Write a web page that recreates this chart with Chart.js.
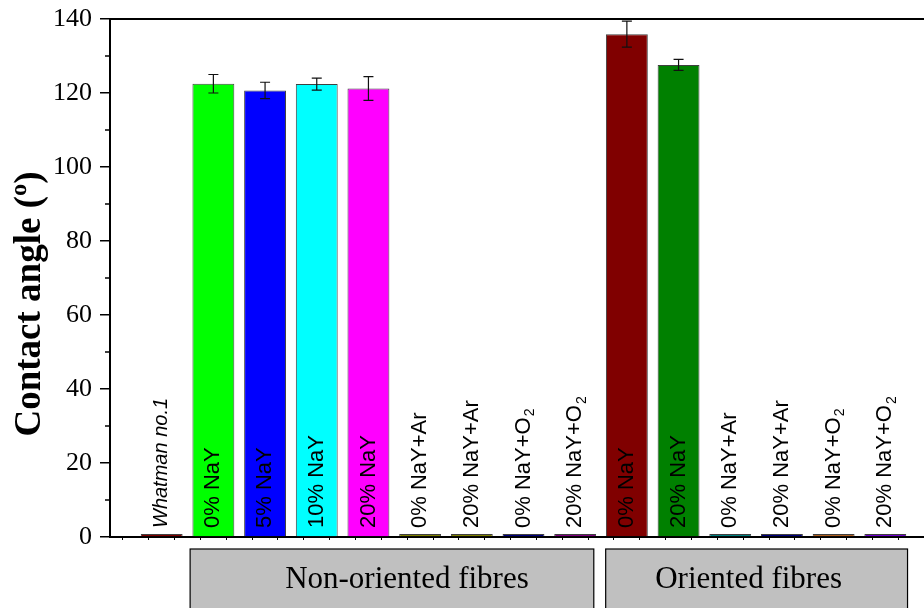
<!DOCTYPE html>
<html>
<head>
<meta charset="utf-8">
<script src="https://cdn.jsdelivr.net/npm/chart.js@4/dist/chart.umd.min.js"></script>
<style>
  html, body { margin: 0; padding: 0; background: #fff; overflow: hidden; }
  #wrap { width: 924px; height: 608px; overflow: hidden; position: relative; }
  #wrap canvas { position: absolute; left: 0; top: 0; }
</style>
</head>
<body>
<div id="wrap"><canvas id="chart" width="940" height="608"></canvas></div>
<script>
// Sample names ("_2" marks a subscript 2)
const categories = [
  'Whatman no.1',
  '0% NaY', '5% NaY', '10% NaY', '20% NaY',
  '0% NaY+Ar', '20% NaY+Ar', '0% NaY+O_2', '20% NaY+O_2',
  '0% NaY', '20% NaY',
  '0% NaY+Ar', '20% NaY+Ar', '0% NaY+O_2', '20% NaY+O_2'
];

// Water contact angle (degrees) and its standard deviation
const contactAngle = [0.8, 122.5, 120.7, 122.4, 121.2, 0.8, 0.8, 0.8, 0.8, 135.9, 127.6, 0.8, 0.8, 0.8, 0.8];
const angleError   = [0, 2.5, 2.2, 1.6, 3.2, 0, 0, 0, 0, 3.5, 1.5, 0, 0, 0, 0];

const barColours = [
  '#800000',
  '#00ff00', '#0000ff', '#00ffff', '#ff00ff',
  '#808000', '#808000', '#000080', '#800080',
  '#800000', '#008000',
  '#008080', '#000080', '#b06020', '#7000d0'
];

// Sample groups (first and last category index)
const groupNames = ['Non-oriented fibres', 'Oriented fibres'];
const groupFirst = [1, 9];
const groupLast  = [8, 14];

// y axis range and tick steps
const yMin = 0, yMax = 140, yMajor = 20, yMinor = 10;

const serif = "'Liberation Serif', 'Times New Roman', serif";
const sans = "'Liberation Sans', Arial, sans-serif";

const decorations = {
  id: 'decorations',
  afterDatasetsDraw(chart) {
    const ctx = chart.ctx;
    const xs = chart.scales.x, ys = chart.scales.y;
    const area = chart.chartArea;
    const opt = chart.options.plugins.decorations;
    ctx.save();

    // error bars
    ctx.strokeStyle = '#111';
    ctx.lineWidth = 1.2;
    contactAngle.forEach((v, i) => {
      const e = angleError[i];
      if (!e) return;
      const x = xs.getPixelForValue(i);
      const yt = ys.getPixelForValue(v + e);
      const yb = ys.getPixelForValue(v - e);
      ctx.beginPath();
      ctx.moveTo(x, yt); ctx.lineTo(x, yb);
      ctx.moveTo(x - 5, yt); ctx.lineTo(x + 5, yt);
      ctx.moveTo(x - 5, yb); ctx.lineTo(x + 5, yb);
      ctx.stroke();
    });

    // vertical sample names inside / above the bars
    const y0 = ys.getPixelForValue(0) - 9;
    ctx.fillStyle = '#000';
    categories.forEach((lab, i) => {
      const x = xs.getPixelForValue(i);
      const parts = lab.split('_');
      const italic = i === 0;
      ctx.save();
      ctx.translate(x, y0);
      ctx.rotate(-Math.PI / 2);
      ctx.textAlign = 'left';
      ctx.textBaseline = 'middle';
      ctx.font = italic ? 'italic 20px ' + sans : '22px ' + sans;
      ctx.fillText(parts[0], 0, 0);
      if (parts[1]) {
        const w = ctx.measureText(parts[0]).width;
        ctx.font = '14px ' + sans;
        ctx.fillText(parts[1], w + 1, 7);
      }
      ctx.restore();
    });

    // top frame line
    ctx.strokeStyle = '#000';
    ctx.lineWidth = 2;
    ctx.beginPath();
    ctx.moveTo(area.left, area.top);
    ctx.lineTo(area.right, area.top);
    ctx.stroke();

    // minor ticks on the y axis
    ctx.lineWidth = 1.5;
    for (let v = yMin + yMinor; v < yMax; v += yMajor) {
      const y = ys.getPixelForValue(v);
      ctx.beginPath();
      ctx.moveTo(area.left - 5, y);
      ctx.lineTo(area.left, y);
      ctx.stroke();
    }

    // group boxes under the axis
    groupNames.forEach((name, g) => {
      const l = xs.getPixelForValue(groupFirst[g] - opt.boxInset[g][0]);
      const r = xs.getPixelForValue(groupLast[g] + opt.boxInset[g][1]);
      const top = area.bottom + opt.boxGap;
      ctx.fillStyle = '#c0c0c0';
      ctx.fillRect(l, top, r - l, 80);
      ctx.strokeStyle = '#000';
      ctx.lineWidth = 1.2;
      ctx.strokeRect(l, top, r - l, 80);
      ctx.fillStyle = '#000';
      ctx.font = '31px ' + serif;
      ctx.textAlign = 'center';
      ctx.textBaseline = 'alphabetic';
      ctx.fillText(name, (l + r) / 2 + opt.textShift[g], top + 39);
    });

    // y axis title
    ctx.save();
    ctx.translate(30, (area.top + area.bottom) / 2 + 26);
    ctx.rotate(-Math.PI / 2);
    ctx.textAlign = 'center';
    ctx.textBaseline = 'middle';
    ctx.font = 'bold 37px ' + serif;
    ctx.fillText('Contact angle (\u00BA)', 0, 0);
    ctx.restore();

    ctx.restore();
  }
};

new Chart(document.getElementById('chart'), {
  type: 'bar',
  data: {
    datasets: [{
      data: contactAngle.map((v, i) => ({ x: i, y: v })),
      backgroundColor: barColours,
      borderColor: 'rgba(0,0,0,0.75)',
      borderWidth: 1,
      // the bar ruler follows the half-unit x ticks, so 1.62 of that = 0.81 of a category
      barPercentage: 1.62,
      categoryPercentage: 1
    }]
  },
  options: {
    responsive: false,
    animation: false,
    layout: { padding: { top: 19, right: 3, left: 0, bottom: 0 } },
    plugins: {
      legend: { display: false },
      tooltip: { enabled: false },
      decorations: {
        boxInset: [[0.45, 0.36], [0.41, 0.43]],
        boxGap: 12,
        textShift: [15, -8]
      }
    },
    scales: {
      x: {
        type: 'linear',
        offset: false,
        min: -1,
        max: 15,
        afterFit(s) { s.height = 71; },
        ticks: { stepSize: 0.5, autoSkip: false, callback: () => '' },
        grid: { drawOnChartArea: false, tickLength: 3, color: '#000', lineWidth: 1 },
        border: { color: '#000', width: 2 }
      },
      y: {
        min: yMin,
        max: yMax,
        afterFit(s) { s.width = 110; },
        ticks: {
          stepSize: yMajor,
          padding: 8,
          color: '#000',
          font: { family: serif, size: 26, lineHeight: 0.6 }
        },
        grid: { drawOnChartArea: false, tickLength: 10, color: '#000', lineWidth: 1.5 },
        border: { color: '#000', width: 2 }
      }
    }
  },
  plugins: [decorations]
});
</script>
</body>
</html>
